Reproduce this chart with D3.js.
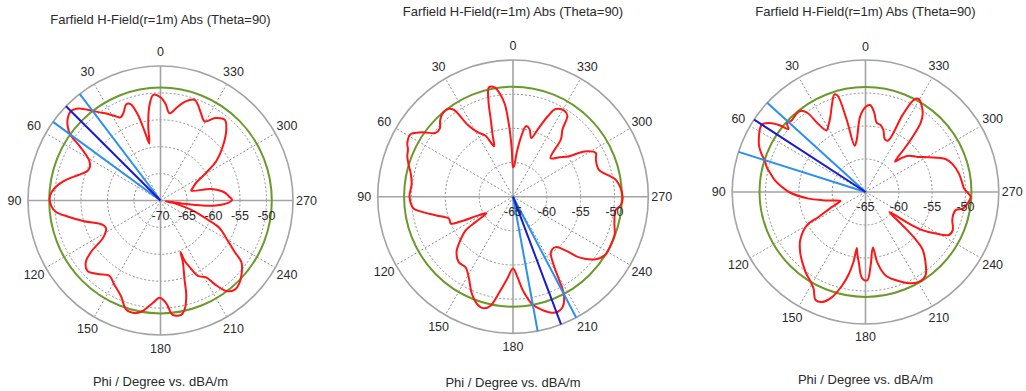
<!DOCTYPE html>
<html>
<head>
<meta charset="utf-8">
<script src="https://cdn.jsdelivr.net/npm/d3@7"></script>
<style>
  body { margin: 0; background: #fff; }
  svg { display: block; }
  text { font-family: "Liberation Sans", Arial, sans-serif; fill: #2a2a2a; }
  .grid { fill: none; stroke: #8f8f8f; stroke-width: 1; stroke-dasharray: 2,2; vector-effect: non-scaling-stroke; }
  .axis { fill: none; stroke: #a3a3a3; stroke-width: 1.6; vector-effect: non-scaling-stroke; }
  .level { fill: none; stroke: #6a9a2c; stroke-width: 2; vector-effect: non-scaling-stroke; }
  .field { fill: none; stroke: #ff1515; stroke-width: 2; stroke-linejoin: round; vector-effect: non-scaling-stroke; }
  .main { stroke: #1a1ad0; stroke-width: 2; vector-effect: non-scaling-stroke; }
  .beam { stroke: #2b8ff2; stroke-width: 2; vector-effect: non-scaling-stroke; }
</style>
</head>
<body>
<svg width="1026" height="391"></svg>
<script>
const title = 'Farfield H-Field(r=1m) Abs (Theta=90)';
const xLabel = 'Phi / Degree vs. dBA/m';
const angleTicks = [0, 30, 60, 90, 120, 150, 180, 210, 240, 270, 300, 330];

const rings1 = [-70, -65, -60, -55, -50];
const rings2 = [-65, -60, -55, -50];
const rings3 = [-65, -60, -55, -50];
const domain1 = [-70, -45];
const domain2 = [-65, -45];
const domain3 = [-65, -45];

const phi1 = [0, 4, 7, 9.5, 11.3, 13, 15, 17.5, 20, 23, 26, 29, 32, 35, 37.6, 42, 45.5, 49, 52, 54.2,
  56.5, 61, 65, 68, 73, 78, 82.6, 88, 93, 96, 99.6, 105, 112.6, 116.7, 120, 122.9, 126.2, 129.2, 133.5, 139.1,
  145.4, 150.8, 157.3, 162.3, 166.8, 170, 175.6, 179.4, 183.2, 186.2, 190.4, 192.6, 195.3, 197.2, 200.2, 201.5, 202.1, 204.5, 206.7, 211.1,
  213.3, 216.4, 220.3, 224, 227.5, 233.1, 235.6, 240.4, 245.2, 248.1, 252.5, 255.7, 259.4, 261.5, 262.3, 263.3, 265, 267.5, 270.5, 273.5,
  277, 282.6, 287.5, 291, 296.5, 301, 305, 310.6, 316.7, 321, 326, 330.5, 335, 341, 346.1, 350, 354, 357];
const field1 = [-50.8, -50.3, -52.5, -56, -59.2, -57, -53.5, -51.2, -51, -52.2, -52.8, -52, -51, -50, -49, -47, -46.3, -46.8, -47.8, -49,
  -51.7, -54.6, -55.3, -55.2, -53.8, -51.7, -50.1, -49.1, -49.4, -50.1, -52.2, -55.1, -58.2, -58.5, -58, -57, -53.7, -51.8, -51, -51.9,
  -53, -52.1, -50.7, -48.7, -48.5, -49, -50.9, -51.9, -50.9, -48.6, -48.4, -49.2, -51.6, -54.7, -57.8, -59.7, -57.9, -56, -54.3, -53.3,
  -51.4, -49.1, -48.3, -48.6, -49.3, -50.9, -53, -55.7, -57.7, -60.3, -63.3, -65.6, -67.6, -69, -66, -62, -59.5, -57.5, -56.5, -57.1,
  -57.8, -60.2, -63.9, -63.5, -62.4, -59.9, -57.1, -54.5, -51.9, -50.7, -51.5, -53.1, -52, -50.2, -51.1, -52.5, -53.7, -52];

const phi2 = [0, 1.5, 3, 5, 7, 9.5, 12.5, 14.5, 16.2, 18.5, 20.8, 24.5, 29, 32.5, 34.5, 36.5, 40.9, 44, 47.5, 51,
  54, 56, 58.9, 63.2, 66, 69.3, 73.9, 77.2, 83, 90, 96.7, 99.4, 103.3, 108.7, 113.2, 115, 118.3, 121.5, 123.8, 125.2,
  130.8, 134, 140, 146, 151, 157, 162, 165, 168, 172, 176, 180, 183.2, 186.1, 190.5, 194.9, 198.5, 201.5, 204.6, 207.8,
  209.5, 211, 214.4, 220.5, 224.7, 227.7, 233.3, 238.5, 244, 250, 255.2, 262.6, 265.6, 270, 279.2, 287.2, 293.9, 297.6, 302, 305.5,
  310, 315.5, 319.9, 323.5, 325.8, 329, 333.8, 336.5, 339.6, 342.5, 346.2, 349.5, 352.3, 355, 358];
const field2 = [-60.7, -58, -55, -51.5, -50, -48.8, -48.6, -50.5, -53.2, -55.5, -57.1, -55.2, -54.2, -52.5, -49.6, -49, -49, -49.5, -50.3, -50.2,
  -49, -48.2, -47.3, -47.5, -48, -48.3, -49, -49.5, -49.9, -49.7, -50.2, -51.4, -53.2, -55, -55, -56.3, -59.3, -60.4, -58.4, -56.4,
  -54.4, -53.4, -52.5, -52.5, -51.5, -49.5, -48.3, -48.1, -48.6, -51, -53, -54.5, -53.2, -51.2, -48.9, -47.8, -47.1, -46.9, -47.3, -48.9,
  -51.5, -53.3, -55.1, -55.3, -53.9, -51.8, -49.7, -48.9, -48.9, -49, -49.5, -49.7, -49, -48.8, -49.6, -51.7, -51.6, -51.2, -52.5, -54.8,
  -56, -57.1, -54, -52.7, -50.7, -50.3, -50.7, -52.2, -54.5, -56, -54.8, -54.5, -56.2, -58.4, -60.5];

const phi3 = [0, 4, 9.5, 13, 14.5, 16, 17.5, 20.5, 25, 29, 32, 34.5, 36, 38.5, 42, 45.5, 48.5, 50.5, 52, 54,
  56.7, 59, 62, 66, 69.5, 72.3, 75.7, 79, 82.6, 86, 90, 96.7, 100.9, 105, 109.8, 112, 114.2, 118.2, 119.7, 126.6,
  133, 138, 143.4, 148.8, 152, 155.4, 158.6, 162.5, 166.1, 168.5, 170.3, 171.3, 172.6, 174.6, 177.8, 181.1, 183.9, 187.5, 189.4, 193.4,
  202, 206, 210.4, 215.5, 220.3, 224.7, 226.4, 227.6, 228.6, 229.6, 231, 232.2, 233.8, 235.9, 239.2, 242.5, 246.2, 251.9, 255, 258.5,
  260.2, 263.4, 267.3, 269, 272, 275, 281.1, 288.1, 292.6, 298.9, 304, 310.3, 313.5, 316.3, 318.5, 320.2, 321.6, 324, 327, 330.5,
  332.5, 334.5, 336.5, 340, 344.2, 347.5, 350.8, 354, 357];
const field3 = [-52.1, -53.5, -57, -57.8, -53.5, -49.8, -49.5, -50.7, -52.5, -53.5, -54, -52.5, -50.2, -49.3, -49.3, -49.5, -49.3, -50, -48.5, -47.2,
  -46.4, -46.5, -46.9, -47.5, -48.3, -49.1, -49.7, -50.5, -51.3, -52.3, -53.5, -56.4, -58.4, -60, -61, -60.5, -59.5, -57, -54.9, -52.8,
  -51.6, -50.8, -49.9, -49.1, -48.4, -47, -47.1, -48.3, -50.4, -52.2, -54.2, -56.4, -55.5, -54.3, -51.9, -51.6, -53.8, -56.5, -54.2, -52,
  -50.3, -49.6, -49.2, -49.5, -51.1, -52.9, -54.8, -57.2, -59.4, -60.3, -59.8, -59, -56.9, -54.7, -52.7, -50.9, -50.7, -51.3, -51.4, -51.2,
  -50.2, -49.6, -49.2, -49.5, -50.2, -50.4, -50.7, -51.3, -52, -54.1, -55.5, -56.5, -57.5, -58.6, -56, -53.5, -51.7, -50.4, -49.5, -48.8,
  -49.2, -52, -56.5, -56.5, -55.2, -54.6, -54.4, -52.8, -51.8];

// -3 dB level circle, main lobe direction and 3 dB beam edges
const levels = [-49.0, -48.9, -49.1];
const mainLobe = [45.5, 200.8, 56.7];
const beamLow = [37.6, 190.5, 47.5];
const beamHigh = [54.2, 207.8, 72.3];

// ---- layout ----
const layout = [
  { cx: 160.5, cy: 200.5, R: 132.5, sy: 1.015, titleY: 19, labelY: 381 },
  { cx: 513, cy: 196.7, R: 135.3, sy: 1.01, titleY: 11, labelY: 382 },
  { cx: 865.5, cy: 192, R: 133.3, sy: 0.99, titleY: 11, labelY: 379 }
];

const charts = [
  { phi: phi1, field: field1, domain: domain1, rings: rings1 },
  { phi: phi2, field: field2, domain: domain2, rings: rings2 },
  { phi: phi3, field: field3, domain: domain3, rings: rings3 }
];

const svg = d3.select('svg');
const rad = d => -d * Math.PI / 180;   // CST phi runs counter-clockwise from the top

charts.forEach((c, i) => {
  const L = layout[i];
  const r = d3.scaleLinear().domain(c.domain).range([0, L.R]);

  const g = svg.append('g').attr('transform', `translate(${L.cx},${L.cy})`);
  const p = g.append('g').attr('transform', `scale(1,${L.sy})`);

  // dotted rings
  p.selectAll('.ring').data(c.rings.filter(v => r(v) > 0)).enter()
    .append('circle').attr('class', 'grid').attr('r', d => r(d));

  // dotted spokes
  p.selectAll('.spoke').data(angleTicks.filter(a => a % 90 !== 0)).enter()
    .append('line').attr('class', 'grid')
    .attr('x2', d => d3.pointRadial(rad(d), L.R)[0])
    .attr('y2', d => d3.pointRadial(rad(d), L.R)[1]);

  // solid cross + outer circle
  p.selectAll('.cross').data([0, 90]).enter()
    .append('line').attr('class', 'axis')
    .attr('x1', d => d3.pointRadial(rad(d), L.R)[0])
    .attr('y1', d => d3.pointRadial(rad(d), L.R)[1])
    .attr('x2', d => d3.pointRadial(rad(d + 180), L.R)[0])
    .attr('y2', d => d3.pointRadial(rad(d + 180), L.R)[1]);
  p.append('circle').attr('class', 'axis').attr('r', r(c.domain[1]));

  // -3 dB level
  p.append('circle').attr('class', 'level').attr('r', r(levels[i]));

  // field pattern
  const line = d3.lineRadial()
    .angle(j => rad(c.phi[j]))
    .radius(j => r(c.field[j]))
    .curve(d3.curveCatmullRomClosed.alpha(0.5));
  p.append('path').attr('class', 'field').attr('d', line(d3.range(c.phi.length)));

  // beam edges and main lobe direction
  p.selectAll('.beam').data([beamLow[i], beamHigh[i]]).enter()
    .append('line').attr('class', 'beam')
    .attr('x2', d => d3.pointRadial(rad(d), L.R)[0])
    .attr('y2', d => d3.pointRadial(rad(d), L.R)[1]);
  p.append('line').attr('class', 'main')
    .attr('x2', d3.pointRadial(rad(mainLobe[i]), L.R)[0])
    .attr('y2', d3.pointRadial(rad(mainLobe[i]), L.R)[1]);

  // angle labels
  g.selectAll('.alabel').data(angleTicks).enter()
    .append('text')
    .attr('x', d => d3.pointRadial(rad(d), L.R + 13.5)[0])
    .attr('y', d => d3.pointRadial(rad(d), L.R + 13.5)[1] * L.sy)
    .attr('text-anchor', 'middle')
    .attr('dominant-baseline', 'central')
    .style('font-size', '12.5px')
    .text(d => d);

  // ring labels
  g.selectAll('.rlabel').data(c.rings).enter()
    .append('text')
    .attr('x', d => r(d))
    .attr('y', 15)
    .attr('text-anchor', 'middle')
    .attr('dominant-baseline', 'central')
    .style('font-size', '12.5px')
    .text(d => d);

  svg.append('text')
    .attr('x', L.cx).attr('y', L.titleY)
    .attr('text-anchor', 'middle').attr('dominant-baseline', 'central')
    .style('font-size', '13px')
    .text(title);

  svg.append('text')
    .attr('x', L.cx).attr('y', L.labelY)
    .attr('text-anchor', 'middle').attr('dominant-baseline', 'central')
    .style('font-size', '13px')
    .text(xLabel);
});
</script>
</body>
</html>
